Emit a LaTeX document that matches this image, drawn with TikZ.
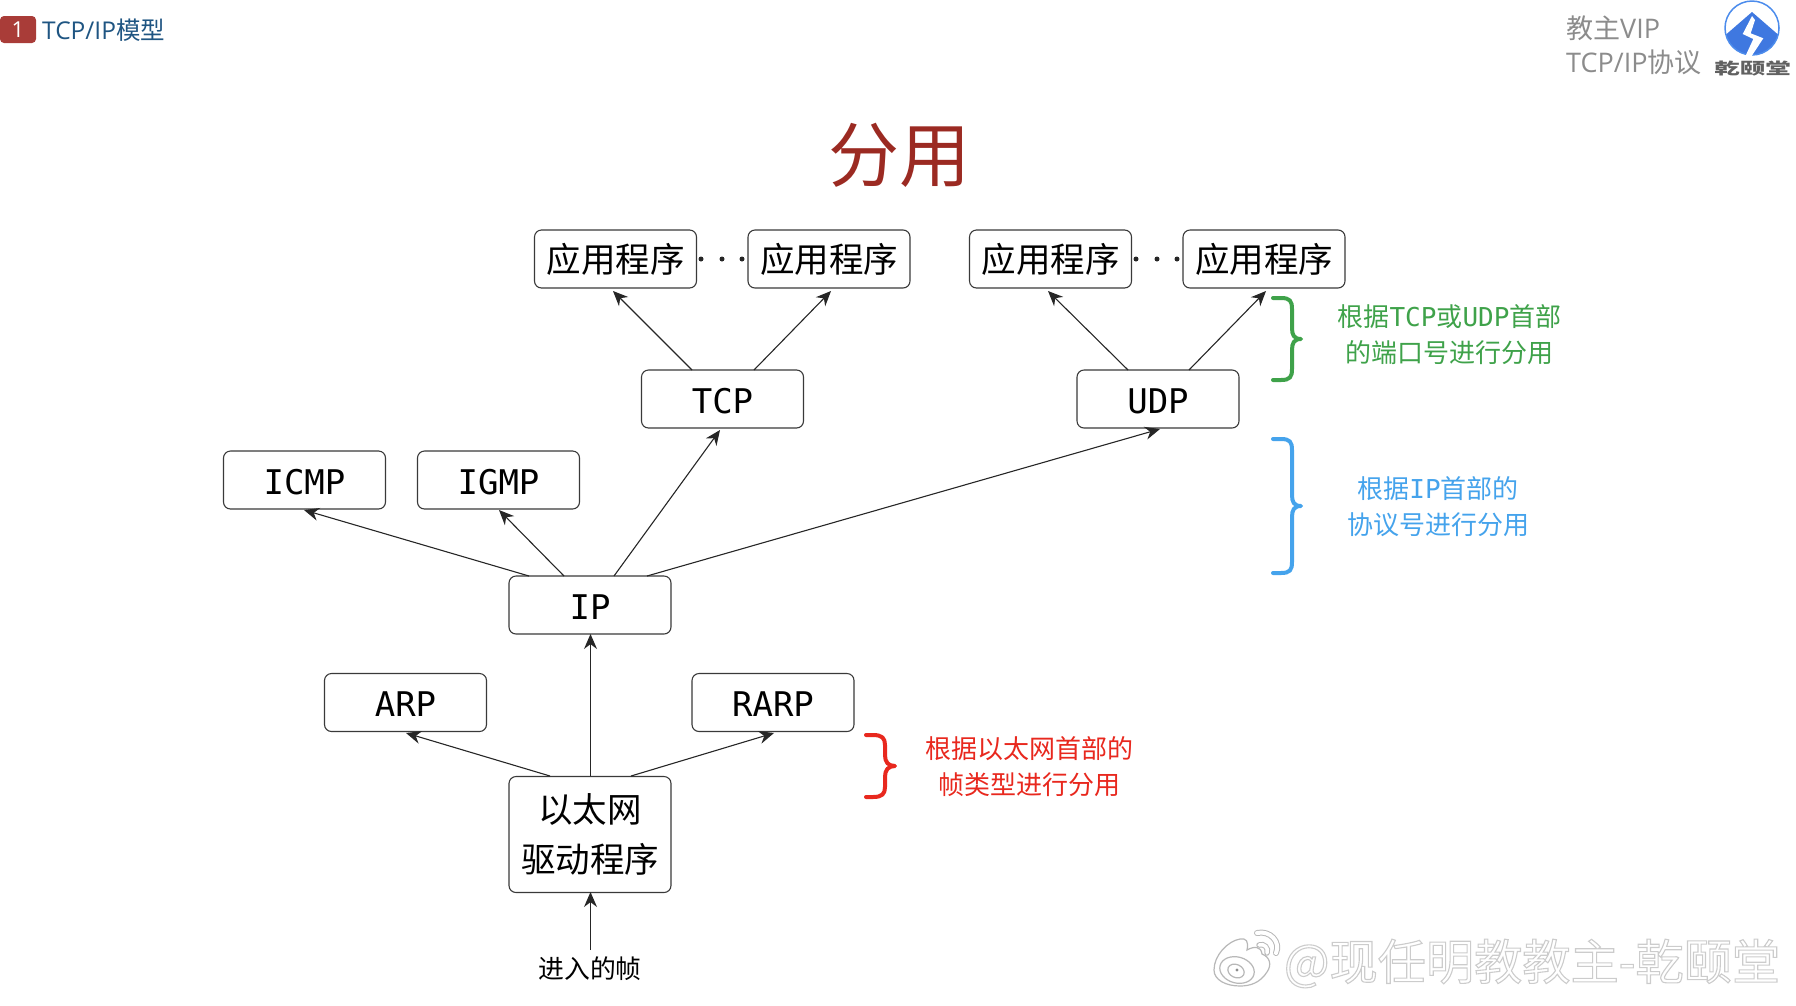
\documentclass[tikz,border=0pt]{standalone}
\usepackage{fontspec}
\setmainfont{Noto Sans CJK SC}
\newfontfamily\monofnt{DejaVu Sans Mono}
\newfontfamily\hdfnt{Open Sans}
\usetikzlibrary{arrows.meta}
\definecolor{boxline}{HTML}{3A3A3A}
\definecolor{titlered}{HTML}{9B2A22}
\definecolor{tagred}{HTML}{A93C38}
\definecolor{headblue}{HTML}{1F5582}
\definecolor{headgray}{HTML}{8C8C8C}
\definecolor{bracegreen}{HTML}{3FA24A}
\definecolor{braceblue}{HTML}{45A3EC}
\definecolor{bracered}{HTML}{E8281E}
\definecolor{logoblue}{HTML}{3F78E0}
\definecolor{logoring}{HTML}{4C8CEC}
\tikzset{
  pbox/.style={draw=boxline,line width=1.1pt,rounded corners=7pt,fill=white,minimum width=162pt,minimum height=58pt,inner sep=0pt,align=center,font=\fontsize{34.5}{49.5}\selectfont},
  mbox/.style={draw=boxline,line width=1.1pt,rounded corners=7pt,fill=white,minimum width=162pt,minimum height=58pt,inner sep=0pt,text height=28.5pt,text depth=0pt,font=\monofnt\fontsize{34}{40}\selectfont},
  conn/.style={draw=black!85,line width=1.1pt,-{Stealth[length=15pt,width=13pt]}},
  note/.style={align=center,font=\fontsize{26}{36}\selectfont},
  bracepath/.style={line width=4pt,line cap=round,line join=round},
  dotmark/.style={circle,fill=black!85,minimum size=5pt,inner sep=0pt},
  wbline/.style={black!28,line width=1.2pt},
}
\newcommand{\mn}[1]{{\monofnt #1}}
\begin{document}
\begin{tikzpicture}[x=1pt,y=-1pt]
\useasboundingbox (0,0) rectangle (1796,1005);
% header
\node[fill=tagred,rounded corners=4pt,minimum width=36pt,minimum height=27pt,inner sep=0pt,text=white,font=\hdfnt\fontsize{22}{24}\selectfont] (tag) at (18,29.5) {1};
\node[anchor=west,inner sep=0pt,text=headblue,font=\fontsize{24.5}{28}\selectfont] (head) at (42,30) {{\hdfnt TCP/IP}模型};
\node[anchor=west,inner sep=0pt,text=headgray,align=left,font=\fontsize{27}{33.5}\selectfont] (vip) at (1566,45.5) {教主{\hdfnt VIP}\\{\hdfnt TCP/IP}协议};
% logo
\begin{scope}
\clip (1752,28) circle (27);
\fill[logoblue] (1752,12) -- (1782,38) -- (1782,60) -- (1722,60) -- (1722,38) -- cycle;
\end{scope}
\draw[logoring,line width=1.5pt] (1752,28) circle (27);
\fill[white] (1752,16) -- (1742.7,34) -- (1753.3,39) -- (1745,57) -- (1751,57) -- (1763.3,38.3) -- (1750.7,33.3) -- (1755,20) -- cycle;
\node[inner sep=0pt,text=black!62,yscale=0.62,font=\bfseries\fontsize{25.5}{28}\selectfont] (logotxt) at (1752.5,68.5) {乾颐堂};
% title
\node[inner sep=0pt,text=titlered,font=\fontsize{71}{74}\selectfont] (title) at (899,155) {分用};
% boxes
\node[pbox] (app1) at (615.5,259) {应用程序};
\node[pbox] (app2) at (829,259) {应用程序};
\node[pbox] (app3) at (1050.5,259) {应用程序};
\node[pbox] (app4) at (1264,259) {应用程序};
\node[mbox] (tcp) at (722.5,399) {TCP};
\node[mbox] (udp) at (1158,399) {UDP};
\node[mbox] (icmp) at (304.5,480) {ICMP};
\node[mbox] (igmp) at (498.5,480) {IGMP};
\node[mbox] (ip) at (590,605) {IP};
\node[mbox] (arp) at (405.5,702.5) {ARP};
\node[mbox] (rarp) at (773,702.5) {RARP};
\node[pbox,minimum height=116pt] (eth) at (590,834.5) {以太网\\驱动程序};
\node[inner sep=0pt,font=\fontsize{25.8}{30}\selectfont] (inframe) at (590,969) {进入的帧};
% dots
\foreach \n/\xx in {d1/701,d2/722,d3/742,d4/1136,d5/1157,d6/1177}
  \node[dotmark] (\n) at (\xx,259) {};
% connectors
\coordinate (tcpL) at (692,370); \coordinate (tcpR) at (754,370);
\coordinate (app1b) at (613,291); \coordinate (app2b) at (831,291);
\draw[conn] (tcpL) -- (app1b);
\draw[conn] (tcpR) -- (app2b);
\coordinate (udpL) at (1128,370); \coordinate (udpR) at (1189,370);
\coordinate (app3b) at (1048,291); \coordinate (app4b) at (1266,291);
\draw[conn] (udpL) -- (app3b);
\draw[conn] (udpR) -- (app4b);
\coordinate (ipA) at (529,576); \coordinate (ipB) at (564,576); \coordinate (ipC) at (614,576); \coordinate (ipD) at (647,576);
\coordinate (icmpb) at (304,510); \coordinate (igmpb) at (499,510); \coordinate (tcpb) at (720,430); \coordinate (udpb) at (1160,429);
\draw[conn] (ipA) -- (icmpb);
\draw[conn] (ipB) -- (igmpb);
\draw[conn] (ipC) -- (tcpb);
\draw[conn] (ipD) -- (udpb);
\coordinate (ethA) at (550,776); \coordinate (ethB) at (590.5,776); \coordinate (ethC) at (631,776);
\coordinate (arpb) at (406,733); \coordinate (ipb) at (590.5,634); \coordinate (rarpb) at (774,733);
\draw[conn] (ethA) -- (arpb);
\draw[conn] (ethB) -- (ipb);
\draw[conn] (ethC) -- (rarpb);
\coordinate (inTop) at (590.5,950); \coordinate (ethb) at (590.5,892);
\draw[conn] (inTop) -- (ethb);
% braces
\draw[bracepath,bracegreen] (1273,298) -- (1281,298) .. controls (1290,298) and (1292,301) .. (1292,309) -- (1292,328) .. controls (1292,335) and (1294,339) .. (1301,339) .. controls (1294,339) and (1292,343) .. (1292,350) -- (1292,369) .. controls (1292,377) and (1290,380) .. (1281,380) -- (1273,380);
\draw[bracepath,braceblue] (1273,439) -- (1281,439) .. controls (1290,439) and (1292,442) .. (1292,450) -- (1292,495) .. controls (1292,502) and (1294,506) .. (1301,506) .. controls (1294,506) and (1292,510) .. (1292,517) -- (1292,562) .. controls (1292,570) and (1290,573) .. (1281,573) -- (1273,573);
\draw[bracepath,bracered] (866,735) -- (873,735) .. controls (882,735) and (885,738) .. (885,745) -- (885,755) .. controls (885,762) and (888,766) .. (895,766) .. controls (888,766) and (885,770) .. (885,777) -- (885,787) .. controls (885,794) and (882,797) .. (873,797) -- (866,797);
% notes
\node[note,text=bracegreen] (ngreen) at (1449.5,335) {根据\mn{TCP}或\mn{UDP}首部\\的端口号进行分用};
\node[note,text=braceblue] (nblue) at (1438,507) {根据\mn{IP}首部的\\协议号进行分用};
\node[note,text=bracered] (nred) at (1029,767) {根据以太网首部的\\帧类型进行分用};
% watermark
\draw[wbline,fill=white] (1214,970) .. controls (1214,955) and (1228,941) .. (1240,939) .. controls (1246,938) and (1249,941) .. (1247,950) .. controls (1254,946) and (1261,946) .. (1262,954) .. controls (1270,957) and (1272,965) .. (1267,972) .. controls (1260,983) and (1250,986) .. (1240,986) .. controls (1226,986) and (1214,980) .. (1214,970) -- cycle;
\draw[wbline,rotate around={-15:(1237,970)}] (1237,970) ellipse (17.5 and 13);
\draw[wbline,rotate around={-25:(1236,971)}] (1236,971) ellipse (8.5 and 6.5);
\fill[black!45] (1237,970) circle (1.6);
\draw[black!28,line width=6pt,line cap=round] (1257,933) .. controls (1270,930) and (1281,942) .. (1276,953);
\draw[white,line width=4pt,line cap=round] (1257,933) .. controls (1270,930) and (1281,942) .. (1276,953);
\draw[black!28,line width=5.5pt,line cap=round] (1259,945) .. controls (1264,943) and (1269,948) .. (1267,953);
\draw[white,line width=3.5pt,line cap=round] (1259,945) .. controls (1264,943) and (1269,948) .. (1267,953);
\node[inner sep=0pt,font=\fontsize{48.2}{50}\selectfont] (wm) at (1532,963.5) {\special{pdf:code q 2 Tr 1.1 w 0.80 G 1 g}@现任明教教主-乾颐堂\special{pdf:code Q}};
\end{tikzpicture}
\end{document}
